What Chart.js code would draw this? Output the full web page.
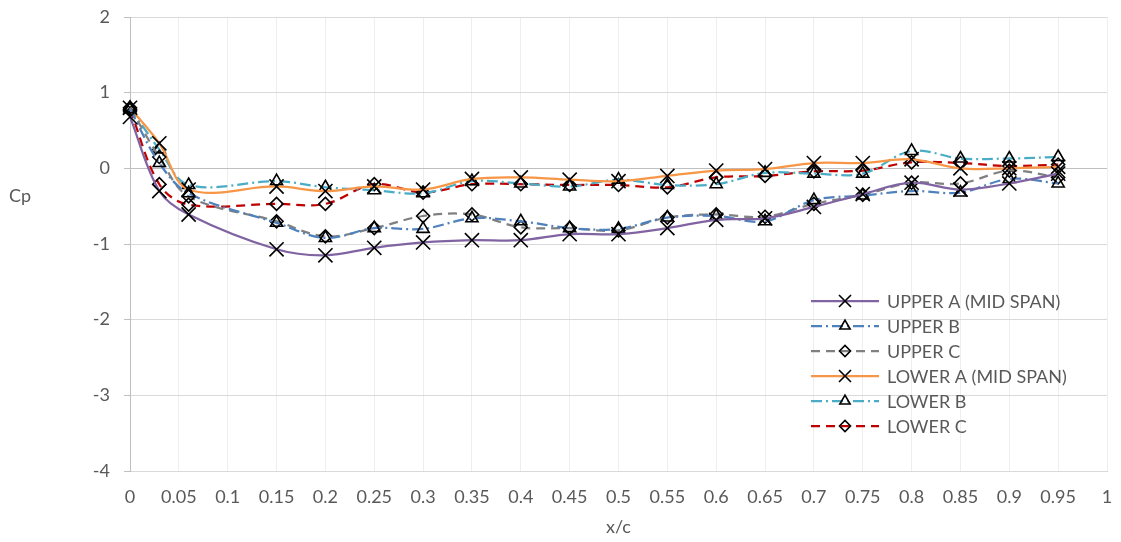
<!DOCTYPE html>
<html>
<head>
<meta charset="utf-8">
<script src="https://cdn.jsdelivr.net/npm/chart.js@4.4.1/dist/chart.umd.min.js"></script>
<style>
  html, body { margin: 0; padding: 0; background: #ffffff; }
  #wrap { width: 1121px; height: 542px; position: relative; }
</style>
</head>
<body>
<div id="wrap"><canvas id="cp" width="1121" height="542"></canvas></div>
<script>
// Chordwise stations x/c
const stations = [0, 0.03, 0.06, 0.15, 0.2, 0.25, 0.3, 0.35, 0.4, 0.45, 0.5, 0.55, 0.6, 0.65, 0.7, 0.75, 0.8, 0.85, 0.9, 0.95];

// Pressure coefficient Cp per surface / spanwise row
const upperA = [0.68, -0.30, -0.61, -1.07, -1.15, -1.05, -0.98, -0.95, -0.95, -0.87, -0.87, -0.79, -0.68, -0.66, -0.51, -0.34, -0.19, -0.28, -0.20, -0.07];
const upperB = [0.78, 0.07, -0.33, -0.72, -0.92, -0.79, -0.80, -0.66, -0.70, -0.79, -0.80, -0.65, -0.63, -0.70, -0.42, -0.36, -0.30, -0.32, -0.14, -0.20];
const upperC = [0.80, 0.15, -0.37, -0.70, -0.90, -0.79, -0.63, -0.61, -0.78, -0.79, -0.82, -0.65, -0.61, -0.64, -0.47, -0.35, -0.19, -0.20, -0.03, -0.12];
const lowerA = [0.80, 0.33, -0.28, -0.24, -0.30, -0.24, -0.28, -0.14, -0.12, -0.15, -0.17, -0.10, -0.03, -0.01, 0.07, 0.07, 0.12, 0.00, 0.00, 0.02];
const lowerB = [0.80, 0.25, -0.22, -0.17, -0.25, -0.29, -0.33, -0.17, -0.20, -0.24, -0.15, -0.22, -0.21, -0.06, -0.07, -0.07, 0.23, 0.13, 0.13, 0.15];
const lowerC = [0.78, -0.21, -0.48, -0.47, -0.47, -0.21, -0.32, -0.21, -0.21, -0.22, -0.22, -0.25, -0.12, -0.10, -0.04, -0.03, 0.08, 0.07, 0.03, 0.05];

// Series names
const seriesNames = ['UPPER A (MID SPAN)', 'UPPER B', 'UPPER C', 'LOWER A (MID SPAN)', 'LOWER B', 'LOWER C'];

// Axis ranges and titles
const xRange = [0, 1, 0.05];
const yRange = [-4, 2, 1];
const xTitle = 'x/c';
const yTitle = 'Cp';

const FONT = 'Lato, "Open Sans", sans-serif';
const TEXT = '#595959';

function pts(ys) {
  return stations.map((x, i) => ({ x: x, y: ys[i] }));
}

function series(name, ys, color, dash, marker, radius) {
  return {
    label: name,
    data: pts(ys),
    borderColor: color,
    borderWidth: 2.25,
    borderDash: dash,
    tension: 0.35,
    fill: false,
    clip: false,
    pointStyle: marker,
    pointRadius: radius,
    pointHoverRadius: radius,
    pointBorderColor: '#000000',
    pointBackgroundColor: 'rgba(0,0,0,0)',
    pointBorderWidth: 1.6
  };
}

const datasets = [
  series(seriesNames[0], upperA, '#8064A2', [], 'crossRot', 10),
  series(seriesNames[1], upperB, '#4F81BD', [11, 4, 2, 4], 'triangle', 7),
  series(seriesNames[2], upperC, '#808080', [9, 6], 'rectRot', 6.5),
  series(seriesNames[3], lowerA, '#F79646', [], 'crossRot', 10),
  series(seriesNames[4], lowerB, '#4BACC6', [11, 4, 2, 4], 'triangle', 7),
  series(seriesNames[5], lowerC, '#C00000', [9, 6], 'rectRot', 6.5)
];

// Legend box drawn inside the plot, lower right
const insetLegend = {
  id: 'insetLegend',
  afterDatasetsDraw(chart) {
    const { ctx, chartArea: a } = chart;
    const lineL = a.left + 681, lineR = a.left + 749, mid = a.left + 715, textX = a.left + 757;
    const top = a.top + 284, step = 25;
    chart.data.datasets.forEach((ds, i) => {
      const y = top + i * step;
      ctx.save();
      ctx.strokeStyle = ds.borderColor;
      ctx.lineWidth = ds.borderWidth;
      ctx.setLineDash(ds.borderDash || []);
      ctx.beginPath();
      ctx.moveTo(lineL, y);
      ctx.lineTo(lineR, y);
      ctx.stroke();
      ctx.setLineDash([]);
      ctx.strokeStyle = ds.pointBorderColor;
      ctx.fillStyle = ds.pointBackgroundColor;
      ctx.lineWidth = ds.pointBorderWidth;
      Chart.helpers.drawPoint(ctx, {
        pointStyle: ds.pointStyle,
        radius: ds.pointRadius * 0.85,
        rotation: 0,
        borderWidth: ds.pointBorderWidth
      }, mid, y);
      ctx.fillStyle = TEXT;
      ctx.font = '18px ' + FONT;
      ctx.textAlign = 'left';
      ctx.textBaseline = 'middle';
      ctx.fillText(ds.label, textX, y + 1);
      ctx.restore();
    });
  }
};

// Horizontal value-axis title at the left
const sideTitle = {
  id: 'sideTitle',
  afterDraw(chart) {
    const { ctx } = chart;
    ctx.save();
    ctx.fillStyle = TEXT;
    ctx.font = '18px ' + FONT;
    ctx.textAlign = 'center';
    ctx.textBaseline = 'middle';
    ctx.fillText(yTitle, 20, 196);
    ctx.restore();
  }
};

new Chart(document.getElementById('cp'), {
  type: 'line',
  data: { datasets: datasets },
  options: {
    responsive: false,
    animation: false,
    devicePixelRatio: 1,
    layout: { padding: { top: 17, right: 14, left: 0, bottom: 0 } },
    plugins: {
      legend: { display: false },
      tooltip: { enabled: false }
    },
    scales: {
      x: {
        type: 'linear',
        min: xRange[0],
        max: xRange[1],
        afterFit(scale) {
          scale.height = 71;
          scale.paddingLeft = 0;
          scale.paddingRight = 0;
        },
        ticks: {
          stepSize: xRange[2],
          autoSkip: false,
          maxRotation: 0,
          padding: 15,
          color: TEXT,
          font: { family: FONT, size: 18 },
          callback: (v) => String(+v.toFixed(2))
        },
        grid: { color: '#eeeeee', drawTicks: false, lineWidth: 1 },
        border: { display: true, color: '#d9d9d9' },
        title: {
          display: true,
          text: xTitle,
          color: TEXT,
          font: { family: FONT, size: 18 },
          padding: { top: 0, bottom: 4 }
        }
      },
      y: {
        type: 'linear',
        min: yRange[0],
        max: yRange[1],
        afterFit(scale) {
          scale.width = 130;
          scale.paddingTop = 0;
          scale.paddingBottom = 0;
        },
        ticks: {
          stepSize: yRange[2],
          padding: 14,
          color: TEXT,
          font: { family: FONT, size: 18 }
        },
        grid: {
          color: (c) => (c.tick && c.tick.value === 0 ? '#bfbfbf' : '#d9d9d9'),
          tickColor: '#bfbfbf',
          tickLength: 6,
          lineWidth: 1
        },
        border: { display: true, color: '#bfbfbf', width: 1 }
      }
    }
  },
  plugins: [insetLegend, sideTitle]
});
</script>
</body>
</html>
